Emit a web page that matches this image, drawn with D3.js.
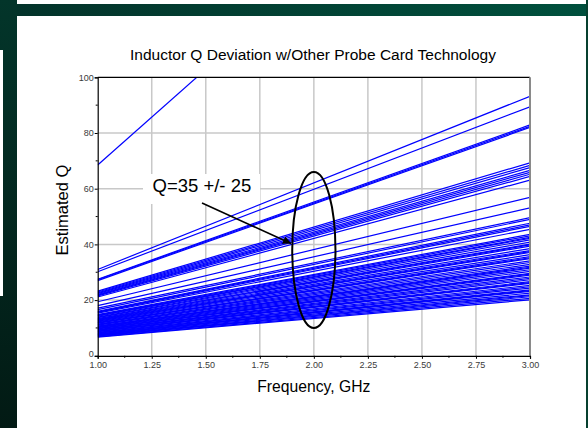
<!DOCTYPE html>
<html>
<head>
<meta charset="utf-8">
<script src="https://cdn.jsdelivr.net/npm/d3@7"></script>
<style>
  html, body { margin: 0; padding: 0; background: #03291f; }
  svg { display: block; }
</style>
</head>
<body>
<svg id="chart" width="588" height="428"></svg>
<script>
var qAt1 = [68.5,
  31.0, 30.2, 27.5, 27.3, 27.0,
  23.2, 22.9, 22.6, 22.3, 22.0, 21.8, 21.5, 21.1,
  19.4, 18.0, 17.1, 16.6, 16.0, 15.8, 15.6, 15.3, 14.8, 14.6, 14.4, 14.2, 13.9, 13.7,
  13.4, 13.3, 13.1, 12.9, 12.7, 12.5, 12.4, 12.2, 11.9, 11.8, 11.7, 11.4, 11.2, 11.0, 10.7,
  10.6, 10.5, 10.3, 10.1, 9.9, 9.8, 9.7, 9.4, 9.3, 9.1, 8.9, 8.8, 8.7, 8.4, 8.2, 8.1,
  7.9, 7.8, 7.7, 7.5, 7.3, 7.2, 7.1, 6.9, 6.7];
var qAt3 = [206.0,
  93.2, 89.4, 82.9, 82.4, 82.0,
  69.3, 68.4, 67.6, 66.6, 65.9, 65.2, 64.4, 63.1,
  56.9, 53.1, 49.6, 49.0, 47.6, 47.0, 46.5, 45.4, 43.6, 43.1, 42.5, 42.2, 41.6, 40.8,
  40.1, 39.8, 39.4, 38.5, 37.8, 37.4, 37.1, 36.3, 35.6, 35.2, 34.9, 34.1, 33.5, 32.8, 32.2,
  31.8, 31.5, 30.9, 30.3, 29.6, 29.3, 29.0, 28.3, 27.8, 27.3, 26.6, 26.3, 26.0, 25.3, 24.8, 24.3,
  23.7, 23.4, 23.1, 22.5, 21.9, 21.6, 21.2, 20.6, 20.1];
var freqEnds = [1.0, 3.0];

var xTicks = [1.00, 1.25, 1.50, 1.75, 2.00, 2.25, 2.50, 2.75, 3.00];
var xMinor = [1.125, 1.375, 1.625, 1.875, 2.125, 2.375, 2.625, 2.875];
var yTicks = [0, 20, 40, 60, 80, 100];
var yMinor = [10, 30, 50, 70, 90];

var chartTitle = "Inductor Q Deviation w/Other Probe Card Technology";
var xTitle = "Frequency, GHz";
var yTitle = "Estimated Q";
var noteText = "Q=35 +/- 25";
var ellipseAt = {f: 2.0, q: 38, df: 0.1, dq: 28};

(function () {
var svg = d3.select("#chart");
var font = "'Liberation Sans', Arial, sans-serif";

// slide background
var defs = svg.append("defs");
var gTop = defs.append("linearGradient").attr("id", "topband");
gTop.append("stop").attr("offset", "0%").attr("stop-color", "#03332a");
gTop.append("stop").attr("offset", "100%").attr("stop-color", "#00503d");
var gLeft = defs.append("linearGradient").attr("id", "leftband")
  .attr("x1", 0).attr("y1", 0).attr("x2", 0).attr("y2", 1);
gLeft.append("stop").attr("offset", "0%").attr("stop-color", "#03352a");
gLeft.append("stop").attr("offset", "100%").attr("stop-color", "#021a14");

svg.append("rect").attr("x", 0).attr("y", 0).attr("width", 588).attr("height", 428).attr("fill", "url(#leftband)");
svg.append("rect").attr("x", 17).attr("y", 0).attr("width", 571).attr("height", 4).attr("fill", "#ffffff");
svg.append("rect").attr("x", 17).attr("y", 4).attr("width", 571).attr("height", 12).attr("fill", "url(#topband)");
svg.append("rect").attr("x", 0).attr("y", 50).attr("width", 3).attr("height", 246).attr("fill", "#ffffff");
svg.append("rect").attr("x", 17).attr("y", 16).attr("width", 569).attr("height", 412).attr("fill", "#ffffff");
svg.append("rect").attr("x", 586).attr("y", 0).attr("width", 2).attr("height", 428).attr("fill", "#06402f");

var pl = 97.7, pr = 530, pt = 77.3, pb = 355.8;
var x = d3.scaleLinear().domain([1, 3]).range([pl, pr]);
var y = d3.scaleLinear().domain([0, 100]).range([pb, pt]);

// grid
svg.append("g").selectAll("line").data(xTicks.slice(1, -1)).join("line")
  .attr("x1", d => x(d)).attr("x2", d => x(d)).attr("y1", pt).attr("y2", pb)
  .attr("stroke", "#c8c8c8").attr("stroke-width", 1.5);
svg.append("g").selectAll("line").data(yTicks.slice(1, -1)).join("line")
  .attr("x1", pl).attr("x2", pr).attr("y1", d => y(d)).attr("y2", d => y(d))
  .attr("stroke", "#c8c8c8").attr("stroke-width", 1.5);

// white box behind the note
svg.append("rect").attr("x", 143).attr("y", 174).attr("width", 117).attr("height", 30).attr("fill", "#ffffff");

// data lines
svg.append("clipPath").attr("id", "plotclip").append("rect")
  .attr("x", pl).attr("y", pt).attr("width", pr - pl).attr("height", pb - pt);
var lineGen = d3.line().x(d => x(d[0])).y(d => y(d[1]));
svg.append("g").attr("clip-path", "url(#plotclip)")
  .selectAll("path").data(qAt1.map((q, i) => [[freqEnds[0], q], [freqEnds[1], qAt3[i]]]))
  .join("path")
  .attr("d", lineGen)
  .attr("fill", "none").attr("stroke", "#0000ff").attr("stroke-width", 1.2);

// frame
svg.append("line").attr("x1", pl).attr("x2", pr).attr("y1", pt).attr("y2", pt)
  .attr("stroke", "#000").attr("stroke-width", 1.2);
svg.append("line").attr("x1", pr).attr("x2", pr).attr("y1", pt).attr("y2", pb)
  .attr("stroke", "#8a8a8a").attr("stroke-width", 2);

// axes
var yAxis = svg.append("g").attr("transform", "translate(" + pl + ",0)")
  .call(d3.axisLeft(y).tickValues(yTicks).tickFormat(d3.format("d")).tickSize(3).tickPadding(1));
var xAxis = svg.append("g").attr("transform", "translate(0," + pb + ")")
  .call(d3.axisBottom(x).tickValues(xTicks).tickFormat(d3.format(".2f")).tickSize(3).tickPadding(2.5));
[xAxis, yAxis].forEach(function (g) {
  g.select(".domain").attr("stroke", "#000").attr("stroke-width", 1.2);
  g.selectAll(".tick line").attr("stroke", "#000");
  g.selectAll(".tick text").attr("fill", "#3a3a3a").style("font-family", font).style("font-size", "9px");
});
// the zero label sits just above the 1.00 label
yAxis.selectAll(".tick").filter(d => d === 0).select("text").attr("dy", "0.1em");
svg.append("g").selectAll("line").data(yMinor).join("line")
  .attr("x1", pl - 2).attr("x2", pl).attr("y1", d => y(d)).attr("y2", d => y(d)).attr("stroke", "#000");
svg.append("g").selectAll("line").data(xMinor).join("line")
  .attr("x1", d => x(d)).attr("x2", d => x(d)).attr("y1", pb).attr("y2", pb + 2).attr("stroke", "#000");

// titles
svg.append("text").attr("x", 313).attr("y", 60).attr("text-anchor", "middle")
  .style("font-family", font).style("font-size", "15.5px").attr("fill", "#000").text(chartTitle);
svg.append("text").attr("x", 313.8).attr("y", 391.5).attr("text-anchor", "middle")
  .style("font-family", font).style("font-size", "15.7px").attr("fill", "#000").text(xTitle);
svg.append("text").attr("transform", "translate(67.5,210) rotate(-90)").attr("text-anchor", "middle")
  .style("font-family", font).style("font-size", "16.5px").attr("fill", "#000").text(yTitle);

// annotation
svg.append("text").attr("x", 152.5).attr("y", 192).style("font-family", font).style("font-size", "18.5px")
  .attr("fill", "#000").text(noteText);
defs.append("marker").attr("id", "head").attr("viewBox", "0 0 10 10").attr("refX", 10).attr("refY", 5)
  .attr("markerWidth", 11).attr("markerHeight", 8).attr("markerUnits", "userSpaceOnUse").attr("orient", "auto")
  .append("path").attr("d", "M0,0 L10,5 L0,10 Z").attr("fill", "#000");
svg.append("line").attr("x1", 202).attr("y1", 203).attr("x2", 291).attr("y2", 243.5)
  .attr("stroke", "#000").attr("stroke-width", 1.6).attr("marker-end", "url(#head)");
svg.append("ellipse")
  .attr("cx", x(ellipseAt.f)).attr("cy", y(ellipseAt.q))
  .attr("rx", x(ellipseAt.f + ellipseAt.df) - x(ellipseAt.f))
  .attr("ry", y(ellipseAt.q) - y(ellipseAt.q + ellipseAt.dq))
  .attr("fill", "none").attr("stroke", "#000").attr("stroke-width", 2);
})();
</script>
</body>
</html>
